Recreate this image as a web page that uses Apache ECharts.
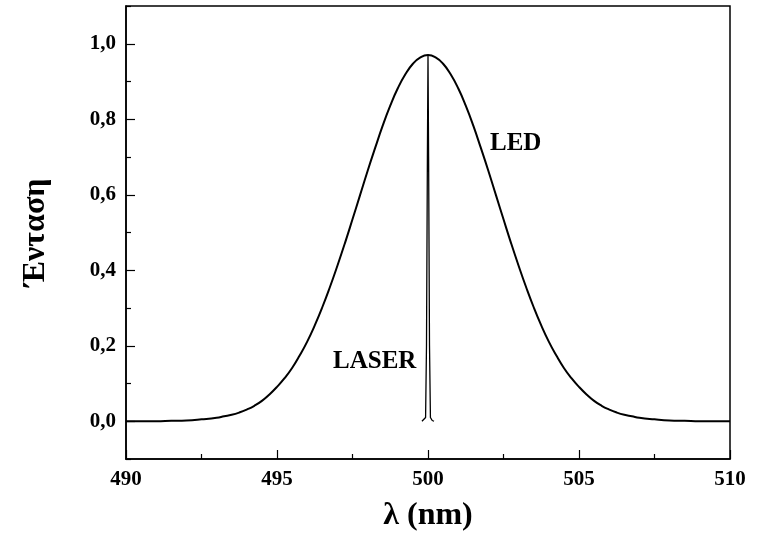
<!DOCTYPE html>
<html>
<head>
<meta charset="utf-8">
<script src="https://cdn.jsdelivr.net/npm/echarts@6/dist/echarts.min.js"></script>
<style>html,body{margin:0;padding:0;background:#fff}#c{width:759px;height:534px}</style>
</head>
<body>
<div id="c"></div>
<script>
// LED spectrum (wavelength nm, intensity)
var ledX = [490, 490.5, 491, 491.5, 492, 492.5, 493, 493.25, 493.5, 493.75, 494, 494.25, 494.5, 494.75, 495, 495.25, 495.5, 495.75,
            496, 496.25, 496.5, 496.75, 497, 497.25, 497.5, 497.75, 498, 498.25, 498.5, 498.75, 499, 499.25, 499.5, 499.75,
            500,
            500.25, 500.5, 500.75, 501, 501.25, 501.5, 501.75, 502, 502.25, 502.5, 502.75, 503, 503.25, 503.5, 503.75,
            504, 504.25, 504.5, 504.75, 505, 505.25, 505.5, 505.75, 506, 506.25, 506.5, 506.75, 507, 507.5, 508, 508.5, 509, 509.5, 510];
var ledY = [0.000, 0.000, 0.000, 0.001, 0.002, 0.005, 0.009, 0.013, 0.017, 0.023, 0.031, 0.041, 0.054, 0.071, 0.091, 0.114, 0.141, 0.174,
            0.211, 0.254, 0.302, 0.355, 0.412, 0.472, 0.535, 0.599, 0.663, 0.724, 0.783, 0.836, 0.882, 0.919, 0.947, 0.964,
            0.970,
            0.964, 0.947, 0.919, 0.882, 0.836, 0.783, 0.724, 0.663, 0.599, 0.535, 0.472, 0.412, 0.355, 0.302, 0.254,
            0.211, 0.174, 0.141, 0.114, 0.091, 0.071, 0.054, 0.041, 0.031, 0.023, 0.017, 0.013, 0.009, 0.005, 0.002, 0.001, 0.000, 0.000, 0.000];
// LASER line
var laserX = [499.80, 499.86, 499.92, 499.95, 499.98, 500.00, 500.02, 500.05, 500.08, 500.14, 500.20];
var laserY = [0.000, 0.002, 0.010, 0.200, 0.700, 0.970, 0.700, 0.200, 0.010, 0.002, 0.000];

var xTicks = [490, 495, 500, 505, 510];
var yMajor = [0, 0.2, 0.4, 0.6, 0.8, 1.0];
var yMinor = [-0.1, 0.1, 0.3, 0.5, 0.7, 0.9, 1.1];
var xName = 'λ (nm)';
var yName = 'Ένταση';

function zip(a, b) { return a.map(function (v, i) { return [v, b[i]]; }); }

var font = '"Liberation Serif", "Times New Roman", serif';
var chart = echarts.init(document.getElementById('c'));
chart.setOption({
  animation: false,
  backgroundColor: '#fff',
  grid: { left: 126, right: 29, top: 6, bottom: 75, containLabel: false, outerBoundsMode: 'none',
    show: true, borderColor: '#000', borderWidth: 1.5, backgroundColor: 'transparent' },
  xAxis: {
    type: 'value', min: 490, max: 510, interval: 5,
    name: xName, nameLocation: 'middle', nameGap: 41,
    nameTextStyle: { fontFamily: font, fontWeight: 'bold', fontSize: 32, color: '#000' },
    axisLine: { show: true, onZero: false, lineStyle: { color: '#000', width: 1.5 } },
    axisTick: { show: true, inside: true, length: 9, lineStyle: { color: '#000', width: 1.2 } },
    minorTick: { show: true, splitNumber: 2, length: 5, lineStyle: { color: '#000', width: 1.2 } },
    axisLabel: { margin: 10, fontFamily: font, fontWeight: 'bold', fontSize: 21, color: '#000',
      customValues: xTicks },
    splitLine: { show: false }
  },
  yAxis: [{
    type: 'value', min: -0.1, max: 1.1,
    name: yName, nameLocation: 'middle', nameGap: 74, nameRotate: 90,
    nameTextStyle: { fontFamily: font, fontWeight: 'bold', fontSize: 32, color: '#000' },
    axisLine: { show: true, onZero: false, lineStyle: { color: '#000', width: 1.5 } },
    axisTick: { show: true, inside: true, length: 9, customValues: yMajor, lineStyle: { color: '#000', width: 1.2 } },
    axisLabel: { margin: 10, fontFamily: font, fontWeight: 'bold', fontSize: 21, color: '#000',
      customValues: yMajor,
      formatter: function (v) { return v.toFixed(1).replace('.', ','); } },
    splitLine: { show: false }
  }, {
    type: 'value', min: -0.1, max: 1.1, position: 'left',
    axisLine: { show: false, onZero: false },
    axisTick: { show: true, inside: true, length: 5, customValues: yMinor, lineStyle: { color: '#000', width: 1.2 } },
    axisLabel: { show: false },
    splitLine: { show: false }
  }],
  series: [{
    type: 'line', name: 'LED', data: zip(ledX, ledY), smooth: 0.5, showSymbol: false, symbol: 'none',
    lineStyle: { color: '#000', width: 2 }, z: 3
  }, {
    type: 'line', name: 'LASER', data: zip(laserX, laserY), smooth: false, showSymbol: false, symbol: 'none',
    lineStyle: { color: '#000', width: 1.3 }, z: 4
  }],
  graphic: [
    { type: 'text', x: 490, y: 144, style: { text: 'LED', font: 'bold 25px ' + font, fill: '#000', verticalAlign: 'middle' } },
    { type: 'text', x: 333, y: 362, style: { text: 'LASER', font: 'bold 25px ' + font, fill: '#000', verticalAlign: 'middle' } }
  ]
});
</script>
</body>
</html>
